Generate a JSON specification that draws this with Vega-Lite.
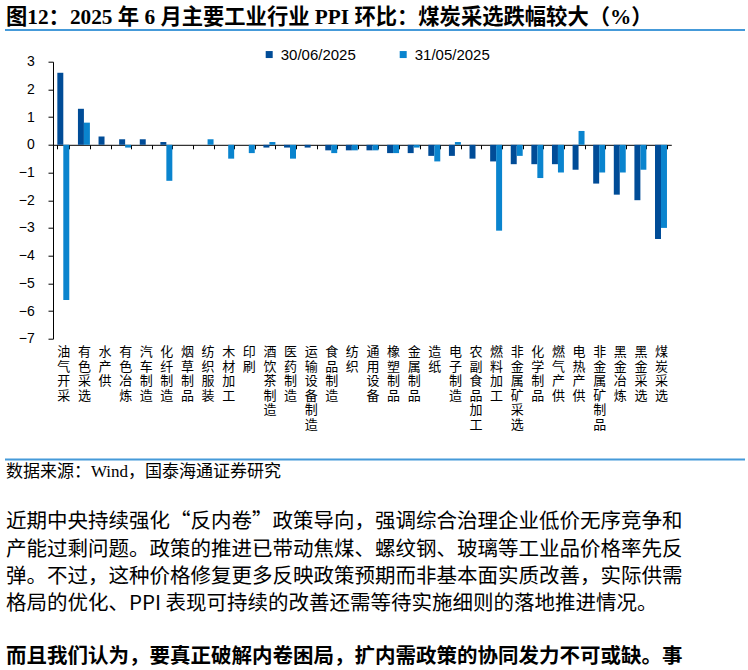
{
  "$schema": "https://vega.github.io/schema/vega-lite/v6.json",
  "background": "white",
  "padding": {"left": 5, "top": 6, "right": 5, "bottom": 0},
  "config": {"view": {"stroke": null}, "font": "Liberation Sans"},
  "spacing": 22.7,
  "vconcat": [
    {
      "width": 738,
      "height": 0.01,
      "view": {"stroke": "#459ad9", "strokeWidth": 2},
      "title": {"text": "图12：2025 年 6 月主要工业行业 PPI 环比：煤炭采选跌幅较大（%）", "anchor": "start", "font": "Liberation Serif, Noto Sans CJK SC", "fontSize": 21.3, "fontWeight": "bold", "color": "#000000", "offset": 1.5},
      "data": {"values": []},
      "mark": "text",
      "encoding": {}
    },
    {
      "spacing": 0,
      "hconcat": [
        {"width": 1, "height": 1, "data": {"values": []}, "mark": "text", "encoding": {}},
        {
          "width": 618.3,
          "height": 277,
          "data": {"values": [
            {"industry": "油气开采", "series": "30/06/2025", "value": 2.6},
            {"industry": "油气开采", "series": "31/05/2025", "value": -5.6},
            {"industry": "有色采选", "series": "30/06/2025", "value": 1.3},
            {"industry": "有色采选", "series": "31/05/2025", "value": 0.8},
            {"industry": "水产供", "series": "30/06/2025", "value": 0.3},
            {"industry": "水产供", "series": "31/05/2025", "value": 0},
            {"industry": "有色冶炼", "series": "30/06/2025", "value": 0.2},
            {"industry": "有色冶炼", "series": "31/05/2025", "value": -0.1},
            {"industry": "汽车制造", "series": "30/06/2025", "value": 0.2},
            {"industry": "汽车制造", "series": "31/05/2025", "value": 0},
            {"industry": "化纤制造", "series": "30/06/2025", "value": 0.1},
            {"industry": "化纤制造", "series": "31/05/2025", "value": -1.3},
            {"industry": "烟草制品", "series": "30/06/2025", "value": 0},
            {"industry": "烟草制品", "series": "31/05/2025", "value": 0},
            {"industry": "纺织服装", "series": "30/06/2025", "value": 0},
            {"industry": "纺织服装", "series": "31/05/2025", "value": 0.2},
            {"industry": "木材加工", "series": "30/06/2025", "value": 0},
            {"industry": "木材加工", "series": "31/05/2025", "value": -0.5},
            {"industry": "印刷", "series": "30/06/2025", "value": 0},
            {"industry": "印刷", "series": "31/05/2025", "value": -0.3},
            {"industry": "酒饮茶制造", "series": "30/06/2025", "value": -0.1},
            {"industry": "酒饮茶制造", "series": "31/05/2025", "value": 0.1},
            {"industry": "医药制造", "series": "30/06/2025", "value": -0.1},
            {"industry": "医药制造", "series": "31/05/2025", "value": -0.5},
            {"industry": "运输设备制造", "series": "30/06/2025", "value": -0.1},
            {"industry": "运输设备制造", "series": "31/05/2025", "value": 0},
            {"industry": "食品制造", "series": "30/06/2025", "value": -0.2},
            {"industry": "食品制造", "series": "31/05/2025", "value": -0.3},
            {"industry": "纺织", "series": "30/06/2025", "value": -0.2},
            {"industry": "纺织", "series": "31/05/2025", "value": -0.2},
            {"industry": "通用设备", "series": "30/06/2025", "value": -0.2},
            {"industry": "通用设备", "series": "31/05/2025", "value": -0.2},
            {"industry": "橡塑制品", "series": "30/06/2025", "value": -0.3},
            {"industry": "橡塑制品", "series": "31/05/2025", "value": -0.3},
            {"industry": "金属制品", "series": "30/06/2025", "value": -0.3},
            {"industry": "金属制品", "series": "31/05/2025", "value": -0.1},
            {"industry": "造纸", "series": "30/06/2025", "value": -0.4},
            {"industry": "造纸", "series": "31/05/2025", "value": -0.6},
            {"industry": "电子制造", "series": "30/06/2025", "value": -0.4},
            {"industry": "电子制造", "series": "31/05/2025", "value": 0.1},
            {"industry": "农副食品加工", "series": "30/06/2025", "value": -0.5},
            {"industry": "农副食品加工", "series": "31/05/2025", "value": 0},
            {"industry": "燃料加工", "series": "30/06/2025", "value": -0.6},
            {"industry": "燃料加工", "series": "31/05/2025", "value": -3.1},
            {"industry": "非金属矿采选", "series": "30/06/2025", "value": -0.7},
            {"industry": "非金属矿采选", "series": "31/05/2025", "value": -0.4},
            {"industry": "化学制品", "series": "30/06/2025", "value": -0.7},
            {"industry": "化学制品", "series": "31/05/2025", "value": -1.2},
            {"industry": "燃气产供", "series": "30/06/2025", "value": -0.7},
            {"industry": "燃气产供", "series": "31/05/2025", "value": -1.0},
            {"industry": "电热产供", "series": "30/06/2025", "value": -0.9},
            {"industry": "电热产供", "series": "31/05/2025", "value": 0.5},
            {"industry": "非金属矿制品", "series": "30/06/2025", "value": -1.4},
            {"industry": "非金属矿制品", "series": "31/05/2025", "value": -1.0},
            {"industry": "黑金冶炼", "series": "30/06/2025", "value": -1.8},
            {"industry": "黑金冶炼", "series": "31/05/2025", "value": -1.0},
            {"industry": "黑金采选", "series": "30/06/2025", "value": -2.0},
            {"industry": "黑金采选", "series": "31/05/2025", "value": -0.9},
            {"industry": "煤炭采选", "series": "30/06/2025", "value": -3.4},
            {"industry": "煤炭采选", "series": "31/05/2025", "value": -3.0}
          ]},
          "mark": {"type": "bar"},
          "encoding": {
            "x": {
              "field": "industry", "type": "nominal", "sort": null,
              "scale": {"paddingInner": 0.42, "paddingOuter": 0.21},
              "axis": {
                "title": null, "orient": "bottom", "offset": -193.9,
                "domain": true, "domainColor": "#000000", "domainWidth": 1,
                "ticks": true, "tickBand": "extent", "tickSize": 4, "tickColor": "#000000", "tickWidth": 1,
                "labelAngle": 0, "labelAlign": "center", "labelBaseline": "top",
                "labelExpr": "split(datum.label, '')",
                "labelFont": "Noto Sans CJK SC", "labelFontSize": 13, "labelLineHeight": 14.5,
                "labelColor": "#000000", "labelPadding": 197.1, "labelOverlap": false,
                "labelBound": false, "labelFlush": false, "labelLimit": 0,
                "minExtent": 290.8, "grid": false
              }
            },
            "xOffset": {"field": "series", "type": "nominal", "sort": ["30/06/2025", "31/05/2025"], "scale": {"paddingInner": 0, "paddingOuter": 0}},
            "y": {
              "field": "value", "type": "quantitative",
              "scale": {"domain": [-7, 3], "nice": false},
              "axis": {
                "title": null, "values": [-7, -6, -5, -4, -3, -2, -1, 0, 1, 2, 3], "grid": false,
                "domain": true, "domainColor": "#000000", "domainWidth": 1,
                "ticks": true, "tickSize": 5, "tickColor": "#000000",
                "labelFont": "Liberation Sans", "labelFontSize": 14, "labelColor": "#000000",
                "labelPadding": 13.7, "minExtent": 45.7
              }
            },
            "color": {
              "field": "series", "type": "nominal",
              "scale": {"domain": ["30/06/2025", "31/05/2025"], "range": ["#004c97", "#0a84ce"]},
              "legend": {
                "orient": "none", "legendX": 255.7, "legendY": 16.8, "direction": "horizontal", "title": null,
                "symbolType": "square", "symbolSize": 49, "symbolStrokeWidth": 0,
                "labelFont": "Liberation Sans", "labelFontSize": 15, "labelColor": "#000000",
                "labelOffset": 4, "columnPadding": 39
              }
            }
          }
        }
      ]
    },
    {
      "width": 738,
      "height": 0.01,
      "view": {"stroke": "#459ad9", "strokeWidth": 2},
      "title": {"text": "数据来源：Wind，国泰海通证券研究", "orient": "bottom", "anchor": "start", "font": "Liberation Serif, Noto Sans CJK SC", "fontSize": 17, "fontWeight": "normal", "color": "#000000", "offset": 5},
      "data": {"values": []},
      "mark": "text",
      "encoding": {}
    },
    {
      "width": 738,
      "height": 0.01,
      "title": {
        "text": [
          "近期中央持续强化“反内卷”政策导向，强调综合治理企业低价无序竞争和",
          "产能过剩问题。政策的推进已带动焦煤、螺纹钢、玻璃等工业品价格率先反",
          "弹。不过，这种价格修复更多反映政策预期而非基本面实质改善，实际供需",
          "格局的优化、PPI 表现可持续的改善还需等待实施细则的落地推进情况。"
        ],
        "subtitle": "而且我们认为，要真正破解内卷困局，扩内需政策的协同发力不可或缺。事",
        "orient": "bottom", "anchor": "start",
        "font": "Noto Sans CJK SC", "fontSize": 20.5, "fontWeight": "normal", "lineHeight": 27.2, "color": "#000000", "offset": 7.3,
        "subtitleFont": "Liberation Serif, Noto Sans CJK SC", "subtitleFontSize": 20.5, "subtitleFontWeight": "bold", "subtitleColor": "#000000", "subtitlePadding": 32.9
      },
      "data": {"values": []},
      "mark": "text",
      "encoding": {}
    }
  ]
}
